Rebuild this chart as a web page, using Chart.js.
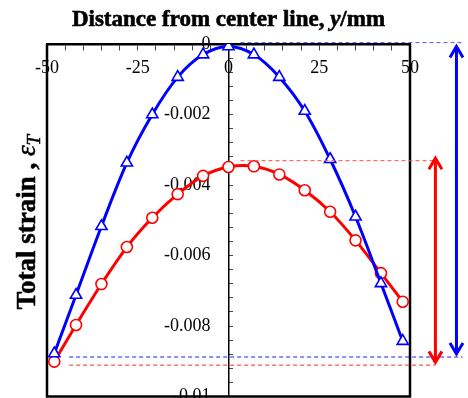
<!DOCTYPE html>
<html><head><meta charset="utf-8">
<script src="https://cdn.jsdelivr.net/npm/chart.js@4/dist/chart.umd.min.js"></script>
<style>html,body{margin:0;padding:0;background:#fff;}canvas{display:block;}</style>
</head><body>
<canvas id="c" width="468" height="398"></canvas>
<script>
// ---- data ----
const distances = [-48, -42, -35, -28, -21, -14, -7, 0, 7, 14, 21, 28, 35, 42, 48];
const strainBlue = [-0.00878, -0.00712, -0.00517, -0.00337, -0.00200, -0.00094, -0.00030, -0.00007, -0.00030, -0.00094, -0.00190, -0.00327, -0.00490, -0.00679, -0.00843];
const strainRed  = [-0.00901, -0.00797, -0.00681, -0.00576, -0.00493, -0.00426, -0.00374, -0.00349, -0.00347, -0.00370, -0.00415, -0.00476, -0.00557, -0.00650, -0.00731];
const xTickLabels = ['-50', '-25', '0', '25', '50'];
const yTickLabels = ['0', '-0.002', '-0.004', '-0.006', '-0.008', '-0.01'];
const titleParts = ['Distance from center line, ', 'y', '/mm'];
const yTitleParts = ['Total strain , ', '\u03B5', 'T'];
// reference levels (dashed) and range arrows
const blueLevels = [0.00004, -0.00888];
const redLevels = [-0.00331, -0.00911];
const blueArrow = [-0.00004, -0.00882];
const redArrow = [-0.00321, -0.00906];
const arrowX = [62.8, 57];          // blue, red (x in mm, outside the frame)
const dashTopStart = 3.3, dashBottomStart = -43.9, blueDashEnd = 64.5, redDashEnd = 57;

const SERIF = '"Liberation Serif", "Times New Roman", serif';
Chart.defaults.font.family = SERIF;

function zeroPad(s) { s.paddingLeft = s.paddingRight = s.paddingTop = s.paddingBottom = 0; }

const decor = {
  id: 'decor',
  beforeDatasetsDraw(chart) {
    const { ctx, chartArea: a } = chart;
    ctx.save();
    ctx.strokeStyle = '#000';
    ctx.lineWidth = 2.5;
    ctx.beginPath();
    ctx.moveTo(a.left, a.top);
    ctx.lineTo(a.left, a.bottom);
    ctx.lineTo(a.right, a.bottom);
    ctx.lineTo(a.right, a.top);
    ctx.stroke();
    ctx.restore();
  },
  afterDatasetsDraw(chart) {
    const { ctx, scales: { x, y } } = chart;
    ctx.save();
    ctx.lineWidth = 1;
    ctx.setLineDash([4, 3]);
    const dash = (x0, x1, v, col) => {
      ctx.strokeStyle = col;
      ctx.beginPath();
      ctx.moveTo(x.getPixelForValue(x0), y.getPixelForValue(v));
      ctx.lineTo(x.getPixelForValue(x1), y.getPixelForValue(v));
      ctx.stroke();
    };
    dash(dashTopStart, blueDashEnd, blueLevels[0], '#5a5aff');
    dash(dashBottomStart, blueDashEnd, blueLevels[1], '#1a1aff');
    dash(dashTopStart, redDashEnd, redLevels[0], '#ff4a4a');
    dash(dashBottomStart, redDashEnd, redLevels[1], '#ff2a2a');
    ctx.setLineDash([]);
    const arrow = (xv, r, col) => {
      const px = x.getPixelForValue(xv);
      const t = y.getPixelForValue(r[0]), b = y.getPixelForValue(r[1]);
      ctx.strokeStyle = col;
      ctx.lineWidth = 3;
      ctx.lineCap = 'butt';
      ctx.beginPath();
      ctx.moveTo(px, t + 2); ctx.lineTo(px, b - 2);
      ctx.stroke();
      ctx.lineJoin = 'miter';
      ctx.beginPath();
      ctx.moveTo(px - 6.5, t + 12); ctx.lineTo(px, t + 1); ctx.lineTo(px + 6.5, t + 12);
      ctx.moveTo(px - 6.5, b - 12); ctx.lineTo(px, b - 1); ctx.lineTo(px + 6.5, b - 12);
      ctx.stroke();
    };
    arrow(arrowX[0], blueArrow, '#0000ff');
    arrow(arrowX[1], redArrow, '#ff0000');
    ctx.restore();
  },
  afterDraw(chart) {
    const { ctx, chartArea: a } = chart;
    ctx.save();
    ctx.fillStyle = '#000';
    ctx.strokeStyle = '#000';
    ctx.textBaseline = 'alphabetic';
    ctx.textAlign = 'left';
    // top title with italic y
    const fonts = ['bold 23px ' + SERIF, 'italic bold 23px ' + SERIF, 'bold 23px ' + SERIF];
    let w = 0;
    const ws = titleParts.map((t, i) => { ctx.font = fonts[i]; const m = ctx.measureText(t).width; w += m; return m; });
    let cx = (a.left + a.right) / 2 - w / 2;
    titleParts.forEach((t, i) => {
      ctx.font = fonts[i];
      ctx.lineWidth = 0.6;
      ctx.fillText(t, cx, 26);
      ctx.strokeText(t, cx, 26);
      cx += ws[i];
    });
    // rotated y title
    ctx.translate(35, (a.top + a.bottom) / 2 + 2);
    ctx.rotate(-Math.PI / 2);
    const yf = ['bold 27px ' + SERIF, 'italic 27px ' + SERIF, 'italic 19px ' + SERIF];
    const yo = [0, 0, 5];
    let yw = 0;
    const yws = yTitleParts.map((t, i) => { ctx.font = yf[i]; const m = ctx.measureText(t).width; yw += m; return m; });
    let lx = -yw / 2;
    yTitleParts.forEach((t, i) => {
      ctx.font = yf[i];
      ctx.lineWidth = 0.5;
      ctx.fillText(t, lx, yo[i]);
      ctx.strokeText(t, lx, yo[i]);
      lx += yws[i];
    });
    ctx.restore();
  }
};

new Chart(document.getElementById('c'), {
  type: 'line',
  data: {
    datasets: [
      {
        data: distances.map((d, i) => ({ x: d, y: strainBlue[i] })),
        borderColor: '#0000ff', borderWidth: 3, tension: 0.35,
        pointStyle: 'triangle', pointRadius: 6.5, pointBorderWidth: 1.6,
        pointBackgroundColor: '#ffffff', pointBorderColor: '#0000ff', fill: false
      },
      {
        data: distances.map((d, i) => ({ x: d, y: strainRed[i] })),
        borderColor: '#ff0000', borderWidth: 3, tension: 0.35,
        pointStyle: 'circle', pointRadius: 5.5, pointBorderWidth: 1.6,
        pointBackgroundColor: '#ffffff', pointBorderColor: '#ff0000', fill: false
      }
    ]
  },
  options: {
    responsive: false, animation: false, devicePixelRatio: 1,
    layout: { autoPadding: false, padding: { left: 47, right: 58, top: 44, bottom: 1.5 } },
    plugins: { legend: { display: false }, tooltip: { enabled: false }, title: { display: false } },
    scales: {
      x: {
        type: 'linear', min: -50, max: 50, position: { y: 0 },
        ticks: {
          stepSize: 5, autoSkip: false, maxRotation: 0, padding: 8, color: '#000',
          font: { size: 18, family: SERIF },
          callback: v => { const s = String(v); return xTickLabels.includes(s) ? s : ''; }
        },
        grid: { drawOnChartArea: false, drawTicks: true, tickLength: 5, color: '#444', lineWidth: 1 },
        border: { display: true, color: '#000', width: 2.5 },
        afterFit: zeroPad
      },
      y: {
        type: 'linear', min: -0.01, max: 0, position: { x: 0 },
        ticks: {
          stepSize: 0.0004, autoSkip: false, color: '#000',
          font: { size: 18, family: SERIF },
          callback: v => {
            const s = String(Math.round(v * 1e4) / 1e4);
            return yTickLabels.includes(s) ? s + '    ' : '';
          }
        },
        grid: { drawOnChartArea: false, drawTicks: true, tickLength: -5, color: '#444', lineWidth: 1 },
        border: { display: true, color: '#000', width: 1.5 },
        afterFit: zeroPad
      }
    }
  },
  plugins: [decor]
});
</script>
</body></html>
